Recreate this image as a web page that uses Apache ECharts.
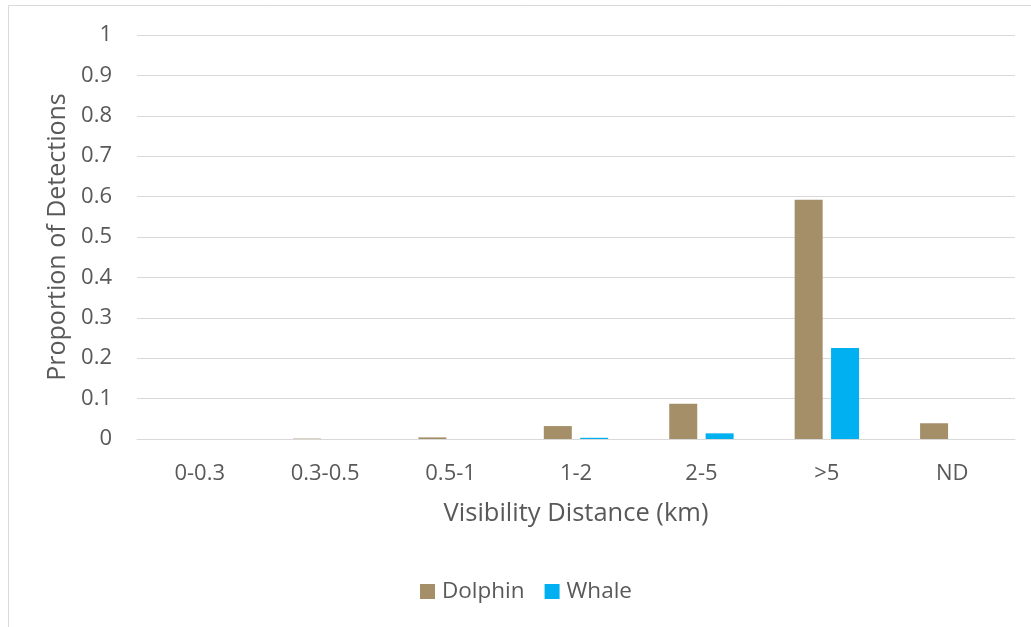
<!DOCTYPE html>
<html><head><meta charset="utf-8">
<script src="https://cdn.jsdelivr.net/npm/echarts@6/dist/echarts.min.js"></script>
<style>html,body{margin:0;padding:0;background:#fff}#c{width:1031px;height:627px}</style>
</head><body><div id="c"></div>
<script>
const categories = ['0-0.3','0.3-0.5','0.5-1','1-2','2-5','>5','ND'];
const dolphin = [0, 0.001, 0.004, 0.032, 0.087, 0.592, 0.039];
const whale = [0, 0, 0, 0.003, 0.014, 0.225, 0];
const yTicks = [0,0.1,0.2,0.3,0.4,0.5,0.6,0.7,0.8,0.9,1];

const font = '"Open Sans", "Noto Sans", sans-serif';
const chart = echarts.init(document.getElementById('c'));
chart.setOption({
  animation: false,
  graphic: [{type:'rect', shape:{x:8.5,y:5.5,width:1040,height:640}, style:{fill:'none', stroke:'#d9d9d9', lineWidth:1}}],
  grid: {left:137, right:16, top:35, bottom:188},
  legend: {
    top: 575, left: 415, itemWidth: 15, itemHeight: 15, itemGap: 20,
    icon: 'rect',
    textStyle: {fontFamily: font, fontSize: 22.5, color:'#595959', padding:[0,0,0,2]},
    data: ['Dolphin','Whale']
  },
  xAxis: {
    type:'category', data: categories,
    name: 'Visibility Distance (km)', nameLocation:'middle', nameGap: 62,
    nameTextStyle:{fontFamily:font, fontSize:25.5, color:'#595959'},
    axisLine:{show:true, lineStyle:{color:'#d9d9d9', width:1}},
    axisTick:{show:false},
    axisLabel:{fontFamily:font, fontSize:22, color:'#595959', margin:24}
  },
  yAxis: {
    type:'value', min:0, max:1, interval:0.1,
    name:'Proportion of Detections', nameLocation:'middle', nameGap: 62,
    nameTextStyle:{fontFamily:font, fontSize:25, color:'#595959'},
    axisLine:{show:false}, axisTick:{show:false},
    axisLabel:{fontFamily:font, fontSize:22, color:'#595959', margin:25,
      formatter: v => { const t = yTicks.find(x => Math.abs(x-v)<1e-9); return String(t !== undefined ? t : v); }},
    splitLine:{lineStyle:{color:'#d9d9d9', width:1}}
  },
  series: [
    {name:'Dolphin', type:'bar', data: dolphin, barWidth: 28, barGap:'30%',
      itemStyle:{color:'#A58F68'}},
    {name:'Whale', type:'bar', data: whale, barWidth: 28,
      itemStyle:{color:'#00B0F0'}}
  ]
});
</script></body></html>
